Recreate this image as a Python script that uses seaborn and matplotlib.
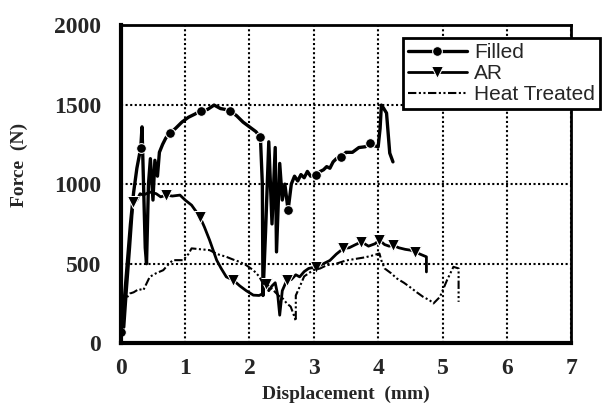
import numpy as np
import pandas as pd
import seaborn as sns
import matplotlib.pyplot as plt
from matplotlib.ticker import MultipleLocator

# Filled specimen
filled_x = [0.0, 0.05, 0.1, 0.15, 0.2, 0.25, 0.31, 0.33, 0.36, 0.38,
            0.40, 0.43, 0.46, 0.5, 0.53, 0.57, 0.6, 0.65, 0.7, 0.76,
            0.85, 0.95, 1.05, 1.15, 1.24, 1.35, 1.45, 1.55, 1.62, 1.70,
            1.8, 1.9, 2.0, 2.1, 2.17, 2.2, 2.21, 2.25, 2.30, 2.35,
            2.40, 2.42, 2.47, 2.51, 2.55, 2.6, 2.65, 2.7, 2.75, 2.8,
            2.85, 2.9, 2.95, 3.04, 3.1, 3.15, 3.2, 3.25, 3.3, 3.35,
            3.43, 3.5, 3.6, 3.7, 3.8, 3.87, 3.95, 4.0, 4.03, 4.05,
            4.08, 4.13, 4.18, 4.23]
filled_y = [70, 250, 500, 750, 950, 1100, 1228, 1360, 900, 600,
            500, 1000, 1160, 900, 1150, 1050, 1200, 1250, 1290, 1320,
            1350, 1390, 1420, 1440, 1460, 1470, 1497, 1475, 1470, 1460,
            1430, 1390, 1360, 1330, 1294, 1000, 300, 700, 1266, 750,
            1230, 574, 1130, 900, 1000, 836, 1000, 1050, 1020, 1060,
            1040, 1080, 1050, 1060, 1080, 1090, 1110, 1100, 1140, 1160,
            1172, 1200, 1200, 1230, 1235, 1256, 1240, 1235, 1350, 1497,
            1480, 1447, 1195, 1140]
filled_marks = [0.0, 0.31, 0.76, 1.24, 1.70, 2.17, 2.6, 3.04, 3.43, 3.87]

# As received
ar_x = [0.05, 0.09, 0.14, 0.19, 0.25, 0.3, 0.35, 0.45, 0.55, 0.62,
        0.71, 0.8, 0.92, 1.0, 1.1, 1.23, 1.3, 1.38, 1.49, 1.56,
        1.64, 1.75, 1.85, 1.95, 2.06, 2.15, 2.2, 2.25, 2.3, 2.35,
        2.4, 2.44, 2.47, 2.51, 2.58, 2.65, 2.72, 2.78, 2.85, 2.92,
        3.04, 3.15, 3.25, 3.35, 3.46, 3.55, 3.65, 3.74, 3.85, 3.95,
        4.02, 4.1, 4.17, 4.23, 4.32, 4.42, 4.5, 4.57, 4.65, 4.75, 4.75]
ar_y = [100, 333, 600, 889, 900, 940, 931, 950, 940, 920,
        931, 925, 931, 900, 868, 794, 730, 648, 522, 470,
        417, 396, 360, 330, 302, 300, 310, 375, 330, 360,
        380, 300, 176, 330, 396, 400, 430, 417, 450, 470,
        480, 500, 520, 560, 596, 600, 620, 637, 610, 625,
        648, 620, 610, 616, 600, 590, 585, 574, 560, 543, 448]
ar_marks = [0.19, 0.71, 1.23, 1.75, 2.25, 2.58, 3.04, 3.46, 3.74, 4.02, 4.23, 4.57]

# Heat treated
ht_x = [0.0, 0.05, 0.1, 0.14, 0.2, 0.28, 0.35, 0.45, 0.55, 0.66,
        0.75, 0.81, 0.97, 1.05, 1.10, 1.25, 1.38, 1.5, 1.64, 1.75,
        1.85, 1.95, 2.06, 2.15, 2.21, 2.3, 2.37, 2.45, 2.52, 2.58,
        2.64, 2.68, 2.72, 2.72, 2.78, 2.85, 2.99, 3.1, 3.2, 3.35,
        3.5, 3.65, 3.8, 3.9, 4.02, 4.05, 4.10, 4.2, 4.29, 4.4,
        4.49, 4.6, 4.70, 4.8, 4.86, 4.96, 5.07, 5.17, 5.25, 5.25]
ht_y = [200, 250, 290, 312, 320, 340, 333, 417, 440, 459,
        500, 522, 522, 560, 596, 590, 585, 560, 543, 525,
        511, 490, 459, 420, 375, 360, 333, 300, 280, 250,
        230, 187, 140, 300, 354, 420, 459, 470, 490, 500,
        520, 530, 540, 550, 564, 520, 470, 440, 407, 380,
        354, 320, 291, 270, 250, 291, 396, 480, 470, 260]

sns.set_style('white')
plt.rcParams['font.family'] = ['Liberation Serif', 'DejaVu Serif']

fig = plt.figure(figsize=(6.07, 4.11), dpi=100)
ax = fig.add_axes([0.199, 0.165, 0.742, 0.774])

filled = pd.DataFrame({'x': filled_x, 'y': filled_y})
ar = pd.DataFrame({'x': ar_x, 'y': ar_y})
ht = pd.DataFrame({'x': ht_x, 'y': ht_y})

f_idx = [filled_x.index(v) for v in filled_marks]
a_idx = [ar_x.index(v) for v in ar_marks]

sns.lineplot(data=filled, x='x', y='y', sort=False, estimator=None, ax=ax,
             color='black', lw=2.4, marker='o', markersize=7, markevery=f_idx,
             label='Filled')
sns.lineplot(data=ar, x='x', y='y', sort=False, estimator=None, ax=ax,
             color='black', lw=2.0, marker='v', markersize=9, markevery=a_idx,
             label='AR')
sns.lineplot(data=ht, x='x', y='y', sort=False, estimator=None, ax=ax,
             color='black', lw=1.5, linestyle=(0, (4, 1.2, 1, 1.2, 1, 1.2)),
             label='Heat Treated')

ax.set_xlim(0, 7)
ax.set_ylim(0, 2000)
ax.xaxis.set_major_locator(MultipleLocator(1))
ax.xaxis.set_minor_locator(MultipleLocator(0.2))
ax.yaxis.set_major_locator(MultipleLocator(500))
ax.yaxis.set_minor_locator(MultipleLocator(100))
ax.grid(True, which='major', color='black', linestyle=(0, (1, 1.2)), lw=1.5)
ax.tick_params(which='both', direction='in', color='black')
ax.tick_params(which='major', length=0, labelsize=17)
ax.tick_params(axis='y', which='major', pad=14)
ax.tick_params(axis='x', which='major', pad=11)
ax.tick_params(which='minor', length=4, width=1.5)
for lab in ax.get_xticklabels() + ax.get_yticklabels():
    lab.set_fontweight('bold')

for side in ['left', 'bottom']:
    ax.spines[side].set_linewidth(3)
for side in ['top', 'right']:
    ax.spines[side].set_linewidth(2)
for s in ax.spines.values():
    s.set_color('black')

ax.set_xlabel('Displacement  (mm)', fontsize=14, fontweight='bold')
ax.set_ylabel('Force  (N)', fontsize=14, fontweight='bold')
ax.xaxis.set_label_coords(0.5, -0.135)
ax.yaxis.set_label_coords(-0.205, 0.56)

leg = ax.legend(loc='upper left', bbox_to_anchor=(0.664, 0.908),
                bbox_transform=fig.transFigure, frameon=True, fancybox=False,
                prop={'family': 'Liberation Sans', 'size': 15},
                handlelength=2.8, handletextpad=0.35, borderpad=0.25,
                labelspacing=0.1, borderaxespad=0)
leg.get_frame().set_edgecolor('black')
leg.get_frame().set_linewidth(2)
leg.get_frame().set_alpha(1)

fig.savefig('out.png', dpi=100)
